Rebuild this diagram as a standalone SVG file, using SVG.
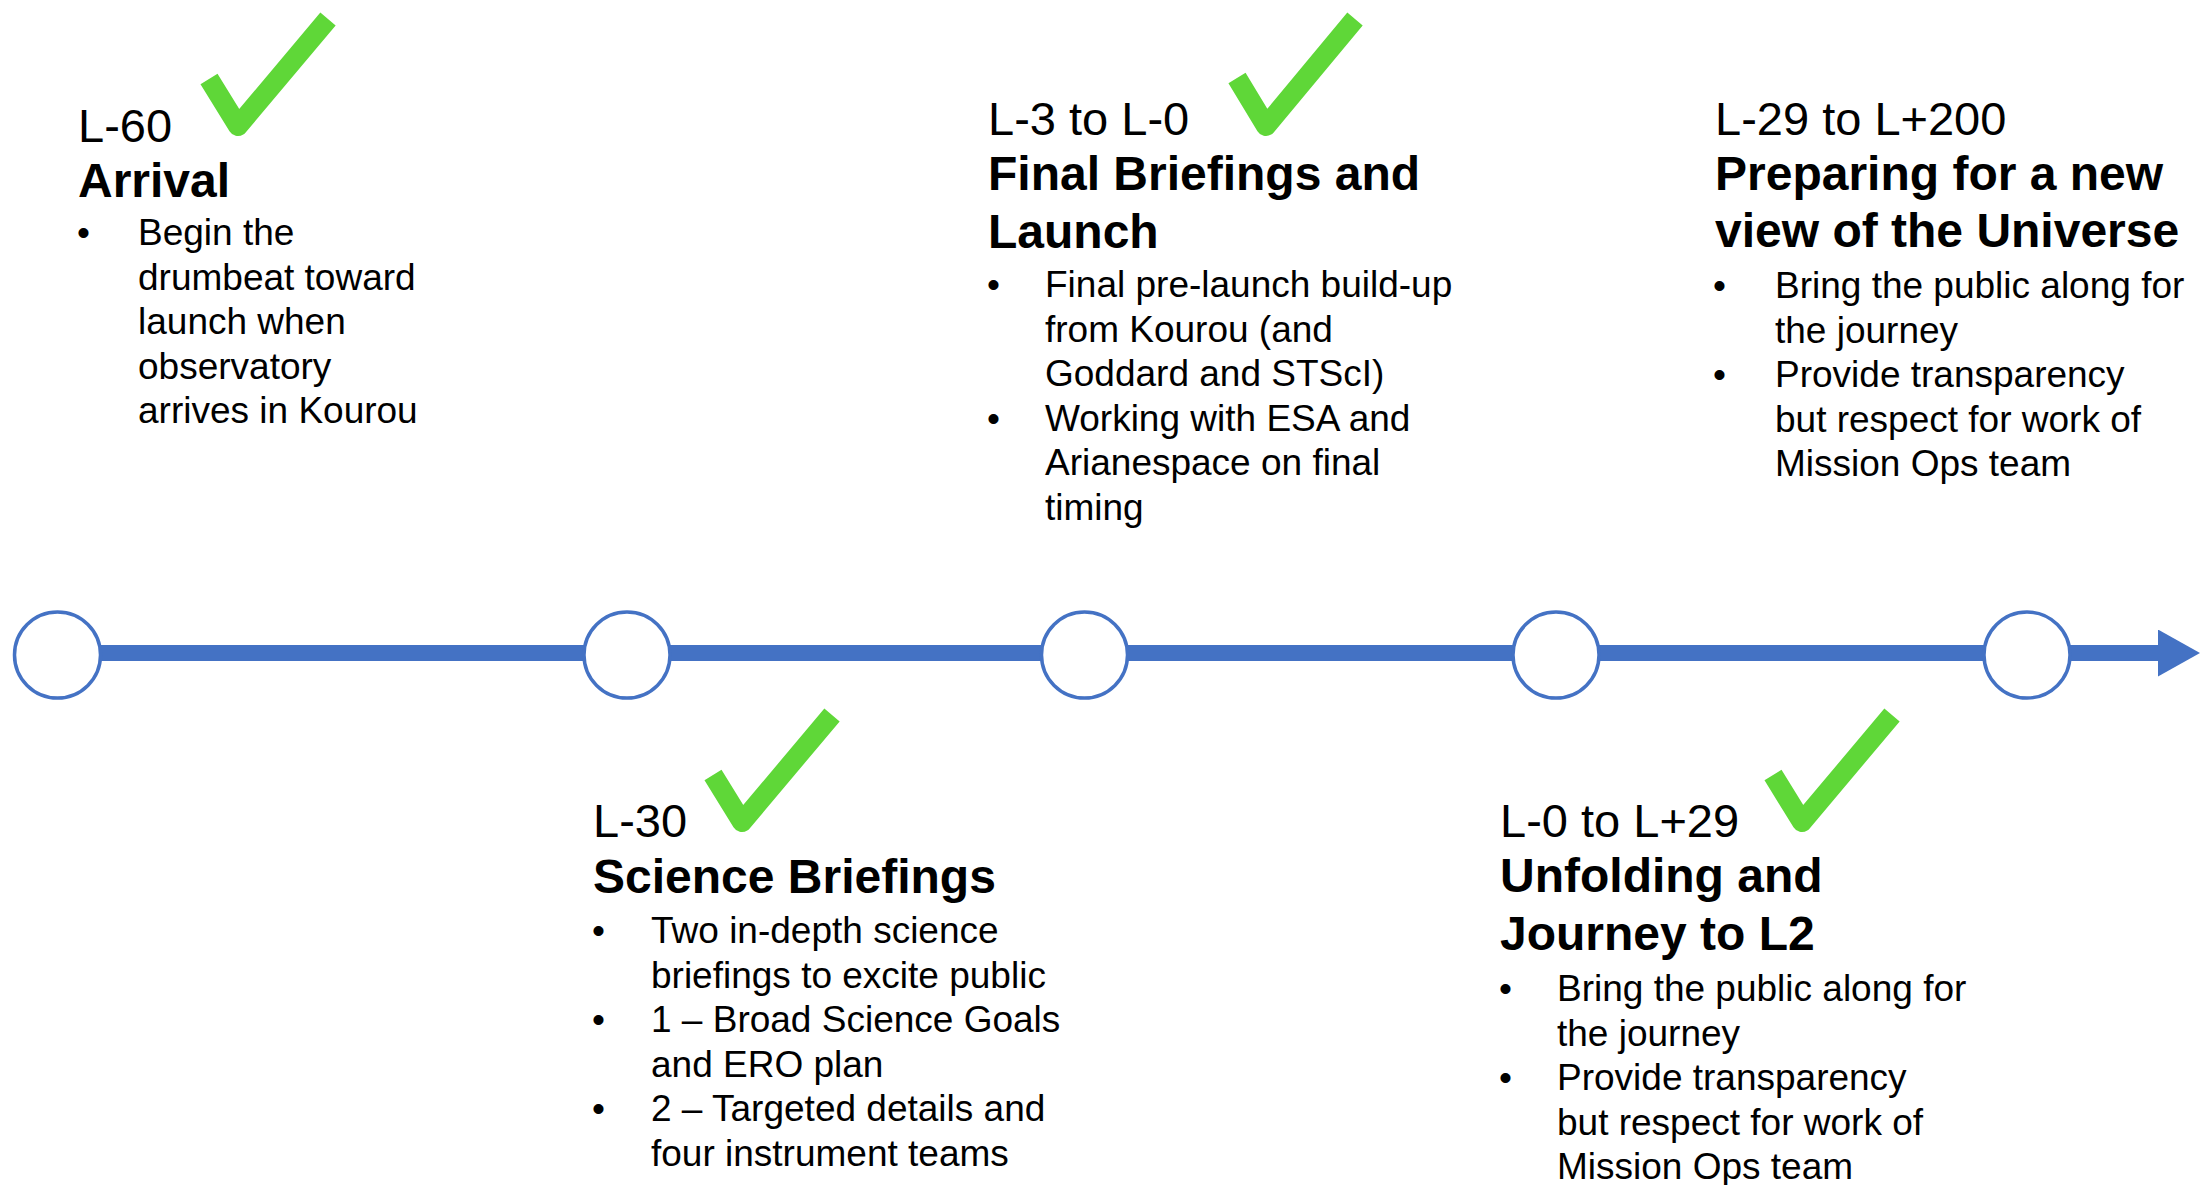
<svg xmlns="http://www.w3.org/2000/svg" width="2200" height="1185" viewBox="0 0 2200 1185">
<defs>
<style>
text{font-family:"Liberation Sans",Arial,Helvetica,sans-serif;fill:#000}
.t{font-size:47px}
.h{font-size:48px;font-weight:bold}
.b{font-size:37px}
.dot{fill:#fff;stroke:#4472C4;stroke-width:3.5}
.chk{fill:none;stroke:#5FD738;stroke-width:20;stroke-linejoin:round;stroke-linecap:butt}
.tl{stroke:#4472C4;stroke-width:16;fill:none}
</style>
<marker id="ah" viewBox="0 0 42 47" markerWidth="42" markerHeight="47" refX="0" refY="23.5" orient="auto" markerUnits="userSpaceOnUse">
<path d="M0,0 L42,23.5 L0,47 Z" fill="#4472C4"/>
</marker>
</defs>
<rect width="2200" height="1185" fill="#fff"/>
<g id="connectors">
<line class="tl" x1="57" y1="653" x2="2158" y2="653" marker-end="url(#ah)"/>
</g>
<g id="m1">
<circle class="dot" cx="57.5" cy="655" r="43"/>
<polyline class="chk" points="209,79 238,126 328,19"/>
<text class="t" x="78" y="142">L-60</text>
<text class="h" x="78" y="197">Arrival</text>
<text class="b" x="77" y="245">•</text>
<text class="b" x="138" y="245">Begin the</text>
<text class="b" x="138" y="289.5">drumbeat toward</text>
<text class="b" x="138" y="334">launch when</text>
<text class="b" x="138" y="378.5">observatory</text>
<text class="b" x="138" y="423">arrives in Kourou</text>
</g>
<g id="m2">
<circle class="dot" cx="627" cy="655" r="43"/>
<polyline class="chk" points="713,775 742,822 832,715"/>
<text class="t" x="593" y="837">L-30</text>
<text class="h" x="593" y="893">Science Briefings</text>
<text class="b" x="592" y="943">•</text>
<text class="b" x="651" y="943">Two in-depth science</text>
<text class="b" x="651" y="987.5">briefings to excite public</text>
<text class="b" x="592" y="1032">•</text>
<text class="b" x="651" y="1032">1 – Broad Science Goals</text>
<text class="b" x="651" y="1076.5">and ERO plan</text>
<text class="b" x="592" y="1121">•</text>
<text class="b" x="651" y="1121">2 – Targeted details and</text>
<text class="b" x="651" y="1165.5">four instrument teams</text>
</g>
<g id="m3">
<circle class="dot" cx="1084.5" cy="655" r="43"/>
<polyline class="chk" points="1237,78 1266,126 1355,19"/>
<text class="t" x="988" y="135">L-3 to L-0</text>
<text class="h" x="988" y="190">Final Briefings and</text>
<text class="h" x="988" y="248">Launch</text>
<text class="b" x="987" y="297">•</text>
<text class="b" x="1045" y="297">Final pre-launch build-up</text>
<text class="b" x="1045" y="341.5">from Kourou (and</text>
<text class="b" x="1045" y="386">Goddard and STScI)</text>
<text class="b" x="987" y="430.5">•</text>
<text class="b" x="1045" y="430.5">Working with ESA and</text>
<text class="b" x="1045" y="475">Arianespace on final</text>
<text class="b" x="1045" y="519.5">timing</text>
</g>
<g id="m4">
<circle class="dot" cx="1556" cy="655" r="43"/>
<polyline class="chk" points="1773,775 1802,822 1892,715"/>
<text class="t" x="1500" y="837">L-0 to L+29</text>
<text class="h" x="1500" y="892">Unfolding and</text>
<text class="h" x="1500" y="950">Journey to L2</text>
<text class="b" x="1499" y="1001">•</text>
<text class="b" x="1557" y="1001">Bring the public along for</text>
<text class="b" x="1557" y="1045.5">the journey</text>
<text class="b" x="1499" y="1090">•</text>
<text class="b" x="1557" y="1090">Provide transparency</text>
<text class="b" x="1557" y="1134.5">but respect for work of</text>
<text class="b" x="1557" y="1179">Mission Ops team</text>
</g>
<g id="m5">
<circle class="dot" cx="2027" cy="655" r="43"/>
<text class="t" x="1715" y="135">L-29 to L+200</text>
<text class="h" x="1715" y="190">Preparing for a new</text>
<text class="h" x="1715" y="247">view of the Universe</text>
<text class="b" x="1713" y="298">•</text>
<text class="b" x="1775" y="298">Bring the public along for</text>
<text class="b" x="1775" y="342.5">the journey</text>
<text class="b" x="1713" y="387">•</text>
<text class="b" x="1775" y="387">Provide transparency</text>
<text class="b" x="1775" y="431.5">but respect for work of</text>
<text class="b" x="1775" y="476">Mission Ops team</text>
</g>
</svg>
